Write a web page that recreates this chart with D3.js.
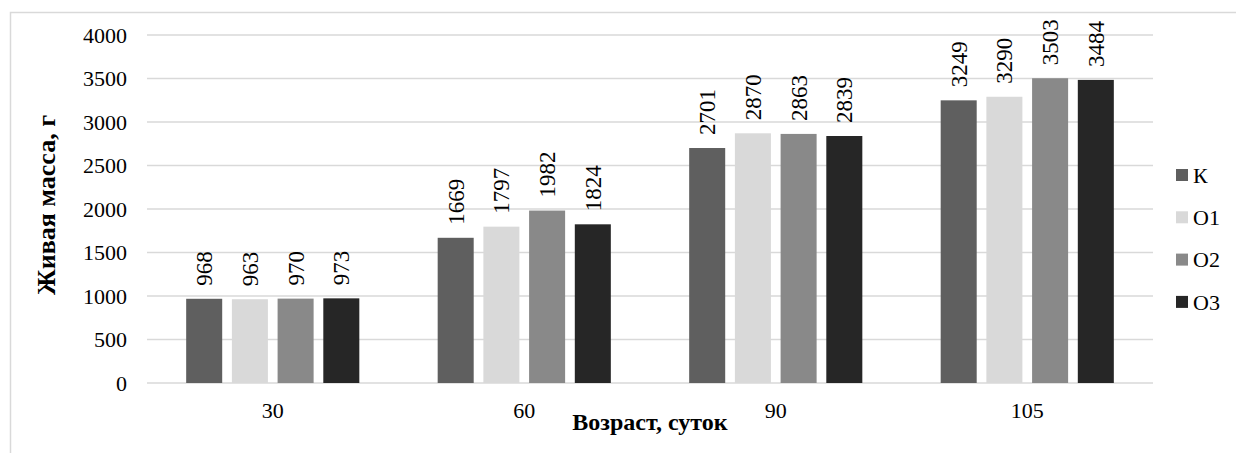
<!DOCTYPE html>
<html>
<head>
<meta charset="utf-8">
<script src="https://cdn.jsdelivr.net/npm/d3@7"></script>
<style>
  html, body { margin: 0; padding: 0; background: #fff; }
  svg { display: block; }
</style>
</head>
<body>
<svg id="chart" width="1236" height="453"></svg>
<script>
// Live weight by age (days) for the control and three experimental groups
const ages = ["30", "60", "90", "105"];
const groups = ["К", "О1", "О2", "О3"];
const weightK  = [968, 1669, 2701, 3249];
const weightO1 = [963, 1797, 2870, 3290];
const weightO2 = [970, 1982, 2863, 3503];
const weightO3 = [973, 1824, 2839, 3484];
const yTicks = [0, 500, 1000, 1500, 2000, 2500, 3000, 3500, 4000];

const seriesValues = [weightK, weightO1, weightO2, weightO3];
const colors = ["#5f5f5f", "#d9d9d9", "#898989", "#262626"];
const FONT = "Liberation Serif";

const svg = d3.select("#chart");
const plot = { left: 147, right: 1153, top: 35, bottom: 383 };

// outer frame
svg.append("rect")
  .attr("x", 10.5).attr("y", 12.5)
  .attr("width", 1300).attr("height", 600)
  .attr("fill", "none").attr("stroke", "#d9d9d9").attr("stroke-width", 1.5);

const x0 = d3.scaleBand().domain(ages).range([plot.left, plot.right]).padding(0);
const x1 = d3.scaleBand().domain(groups).range([0, x0.bandwidth()])
  .paddingInner(0.212).paddingOuter(0.857);
const y = d3.scaleLinear().domain([0, 4000]).range([plot.bottom, plot.top]);

// horizontal gridlines
svg.append("g").selectAll("line").data(yTicks).join("line")
  .attr("x1", plot.left).attr("x2", plot.right)
  .attr("y1", d => y(d)).attr("y2", d => y(d))
  .attr("stroke", "#d9d9d9").attr("stroke-width", 1.5);

// y axis labels
const yAxis = d3.axisLeft(y).tickValues(yTicks).tickFormat(d3.format("d")).tickSize(0).tickPadding(20);
const gy = svg.append("g").attr("transform", `translate(${plot.left},0)`).call(yAxis);
gy.select(".domain").remove();
gy.selectAll("text").attr("fill", "#000").attr("font-family", FONT).attr("font-size", 22);

// x axis labels
const xAxis = d3.axisBottom(x0).tickSize(0).tickPadding(19);
const gx = svg.append("g").attr("transform", `translate(0,${plot.bottom})`).call(xAxis);
gx.select(".domain").remove();
gx.selectAll("text").attr("fill", "#000").attr("font-family", FONT).attr("font-size", 22);

// bars
const rows = ages.map((a, i) => ({ age: a, vals: groups.map((g, j) => ({ g, j, v: seriesValues[j][i] })) }));
const grp = svg.append("g").selectAll("g").data(rows).join("g")
  .attr("transform", d => `translate(${x0(d.age)},0)`);

grp.selectAll("rect").data(d => d.vals).join("rect")
  .attr("x", d => x1(d.g))
  .attr("width", x1.bandwidth())
  .attr("y", d => y(d.v))
  .attr("height", d => y(0) - y(d.v))
  .attr("fill", d => colors[d.j]);

// value labels, rotated above each bar
grp.selectAll("text.val").data(d => d.vals).join("text")
  .attr("class", "val")
  .attr("transform", d => `translate(${x1(d.g) + x1.bandwidth() / 2},${y(d.v) - 13}) rotate(-90)`)
  .attr("dy", "0.35em")
  .attr("text-anchor", "start")
  .attr("font-family", FONT)
  .attr("font-size", 23)
  .text(d => d.v);

// axis titles
svg.append("text")
  .attr("x", (plot.left + plot.right) / 2).attr("y", 430)
  .attr("text-anchor", "middle")
  .attr("font-family", FONT)
  .attr("font-size", 24).attr("font-weight", "bold")
  .text("Возраст, суток");

svg.append("text")
  .attr("transform", "translate(55,205) rotate(-90)")
  .attr("text-anchor", "middle")
  .attr("font-family", FONT)
  .attr("font-size", 26).attr("font-weight", "bold")
  .text("Живая масса, г");

// legend
const legend = svg.append("g").selectAll("g").data(groups).join("g")
  .attr("transform", (d, i) => `translate(1176,${175 + i * 42.3})`);
legend.append("rect")
  .attr("x", 0).attr("y", -6).attr("width", 12).attr("height", 12)
  .attr("fill", (d, i) => colors[i]);
legend.append("text")
  .attr("x", 17).attr("dy", "0.35em")
  .attr("font-family", FONT)
  .attr("font-size", 22)
  .text(d => d);
</script>
</body>
</html>
